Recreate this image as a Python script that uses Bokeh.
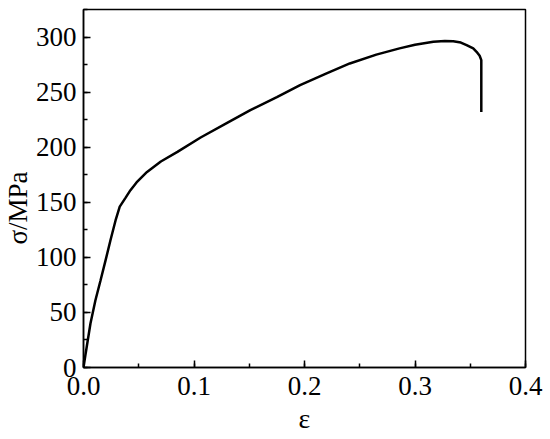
from bokeh.plotting import figure
from bokeh.models import SingleIntervalTicker, PrintfTickFormatter, Range1d, Title
from bokeh.embed import file_html
from bokeh.resources import INLINE

# strain / stress
strain = [0.0, 0.002, 0.0063, 0.0108, 0.0154, 0.0199, 0.0244, 0.029, 0.0328, 0.038, 0.0425,
          0.048, 0.0575, 0.07, 0.085, 0.106, 0.13, 0.151, 0.175, 0.196, 0.22, 0.241, 0.265,
          0.286, 0.30, 0.3166, 0.327, 0.3346, 0.3415, 0.3467, 0.3527, 0.3557, 0.3585,
          0.360, 0.360]
stress = [0.0, 13.0, 40.0, 61.0, 79.0, 97.0, 115.5, 133.5, 146.0, 154.0, 161.0,
          168.0, 177.5, 187.0, 195.7, 208.8, 222.0, 233.6, 245.5, 256.4, 267.0, 276.0, 284.0,
          289.7, 293.0, 295.7, 296.4, 296.2, 295.0, 292.7, 289.7, 286.6, 283.0,
          279.0, 232.0]

x_range = (0.0, 0.4)
y_range = (0.0, 325.0)
x_label = "ε"
y_label = "σ/MPa"

FONT = "Liberation Serif"

p = figure(width=550, height=439, output_backend="svg", toolbar_location=None,
           x_range=Range1d(*x_range), y_range=Range1d(*y_range),
           min_border_left=83, min_border_top=9, min_border_right=25, min_border_bottom=72)

p.line(strain, stress, line_color="black", line_width=2.5)

p.xgrid.visible = False
p.ygrid.visible = False
p.outline_line_color = "black"
p.outline_line_width = 1.5
p.outline_line_alpha = 1.0
p.background_fill_color = "white"
p.border_fill_color = "white"

p.xaxis.ticker = SingleIntervalTicker(interval=0.1, num_minor_ticks=2)
p.yaxis.ticker = SingleIntervalTicker(interval=50, num_minor_ticks=2)
p.xaxis.formatter = PrintfTickFormatter(format="%.1f")
p.yaxis.formatter = PrintfTickFormatter(format="%d")

for ax in (p.xaxis[0], p.yaxis[0]):
    ax.axis_line_color = "black"
    ax.axis_line_width = 1.5
    ax.major_tick_in = 7
    ax.major_tick_out = 0
    ax.minor_tick_in = 4
    ax.minor_tick_out = 0
    ax.major_tick_line_width = 1.5
    ax.minor_tick_line_width = 1.5
    ax.major_tick_line_color = "black"
    ax.minor_tick_line_color = "black"
    ax.major_label_text_font = FONT
    ax.major_label_text_font_size = "27px"
    ax.major_label_text_color = "black"

p.xaxis.major_label_standoff = 9
p.yaxis.major_label_standoff = 7

p.xaxis.axis_label = x_label
p.xaxis.axis_label_text_font = FONT
p.xaxis.axis_label_text_font_size = "28px"
p.xaxis.axis_label_text_font_style = "normal"
p.xaxis.axis_label_text_color = "black"
p.xaxis.axis_label_standoff = 5

p.add_layout(Title(text=y_label, align="left", offset=123, standoff=0,
                   text_font=FONT, text_font_size="27px", text_font_style="normal",
                   text_color="black"), "left")

open("out.html", "w").write(file_html(p, INLINE))
